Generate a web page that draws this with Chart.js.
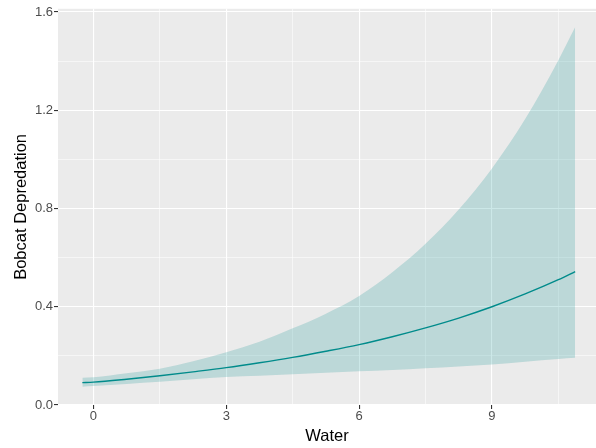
<!DOCTYPE html>
<html><head><meta charset="utf-8">
<script src="https://cdn.jsdelivr.net/npm/chart.js@4/dist/chart.umd.min.js"></script>
<style>html,body{margin:0;padding:0;background:#fff}canvas{display:block}</style>
</head><body>
<canvas id="c" width="596" height="448" style="width:596px;height:448px"></canvas>
<script>
// Data
const water       = [-0.25, 0, 0.75, 1.5, 2.25, 3, 3.75, 4.5, 5.25, 6, 6.75, 7.5, 8.25, 9, 9.75, 10.5, 10.88];
const fitValues   = [0.091, 0.093, 0.105, 0.119, 0.135, 0.152, 0.172, 0.194, 0.219, 0.246, 0.278, 0.314, 0.354, 0.400, 0.452, 0.510, 0.543];
const lowerValues = [0.074, 0.077, 0.086, 0.095, 0.105, 0.114, 0.119, 0.125, 0.131, 0.137, 0.143, 0.150, 0.157, 0.165, 0.176, 0.187, 0.192];
const upperValues = [0.111, 0.113, 0.129, 0.148, 0.178, 0.215, 0.258, 0.312, 0.372, 0.444, 0.540, 0.656, 0.796, 0.963, 1.164, 1.404, 1.539];

const xMajorTicks = [0, 3, 6, 9];
const xMinorTicks = [1.5, 4.5, 7.5, 10.5];
const yMajorTicks = [0, 0.4, 0.8, 1.2, 1.6];
const yMinorTicks = [0.2, 0.6, 1.0, 1.4];
const xLimits = [-0.8, 11.35];
const yLimits = [0, 1.613];

const xTitle = 'Water';
const yTitle = 'Bobcat Depredation';

const toPts = (xs, ys) => xs.map((x, i) => ({x: x, y: ys[i]}));
const isMajor = (arr, v) => arr.some(t => Math.abs(t - v) < 1e-9);

const panelBg = {
  id: 'panelBg',
  beforeDraw(chart) {
    const {ctx, chartArea: a} = chart;
    ctx.save();
    ctx.fillStyle = '#EBEBEB';
    ctx.fillRect(a.left, a.top, a.right - a.left, a.bottom - a.top);
    ctx.restore();
  }
};

const FONT = "'Liberation Sans', Arial, Helvetica, sans-serif";

new Chart(document.getElementById('c'), {
  type: 'line',
  data: {
    datasets: [
      {
        label: 'fit',
        data: toPts(water, fitValues),
        borderColor: '#008B8B',
        borderWidth: 1.4,
        pointRadius: 0,
        fill: false,
        cubicInterpolationMode: 'monotone'
      },
      {
        label: 'lower',
        data: toPts(water, lowerValues),
        borderWidth: 0,
        borderColor: 'rgba(0,0,0,0)',
        pointRadius: 0,
        fill: false,
        cubicInterpolationMode: 'monotone'
      },
      {
        label: 'upper',
        data: toPts(water, upperValues),
        borderWidth: 0,
        borderColor: 'rgba(0,0,0,0)',
        backgroundColor: 'rgba(0,139,139,0.2)',
        pointRadius: 0,
        fill: 1,
        cubicInterpolationMode: 'monotone'
      }
    ]
  },
  options: {
    responsive: false,
    animation: false,
    devicePixelRatio: 1,
    layout: {padding: {top: 5, right: 0, left: 0, bottom: 0}},
    plugins: {legend: {display: false}, tooltip: {enabled: false}},
    scales: {
      x: {
        type: 'linear',
        min: xLimits[0],
        max: xLimits[1],
        afterBuildTicks(scale) {
          scale.ticks = xMajorTicks.concat(xMinorTicks).sort((a, b) => a - b).map(v => ({value: v}));
        },
        afterFit(scale) { scale.height = 43; },
        border: {display: false},
        grid: {
          color: '#FFFFFF',
          lineWidth: ctx => isMajor(xMajorTicks, ctx.tick.value) ? 1.1 : 0.55,
          tickColor: ctx => isMajor(xMajorTicks, ctx.tick.value) ? '#333333' : 'rgba(0,0,0,0)',
          tickWidth: 1.1,
          tickLength: 4,
          drawTicks: true
        },
        ticks: {
          padding: 0,
          color: '#4D4D4D',
          font: {family: FONT, size: 13},
          maxRotation: 0,
          autoSkip: false,
          callback: v => isMajor(xMajorTicks, v) ? String(v) : ''
        },
        title: {
          display: true,
          text: xTitle,
          color: '#000000',
          font: {family: FONT, size: 16.5},
          padding: {top: 2.1, bottom: 2.1}
        }
      },
      y: {
        type: 'linear',
        min: yLimits[0],
        max: yLimits[1],
        afterBuildTicks(scale) {
          scale.ticks = yMajorTicks.concat(yMinorTicks).sort((a, b) => a - b).map(v => ({value: v}));
        },
        afterFit(scale) { scale.width = 58; },
        border: {display: false},
        grid: {
          color: '#FFFFFF',
          lineWidth: ctx => isMajor(yMajorTicks, ctx.tick.value) ? 1.1 : 0.55,
          tickColor: ctx => isMajor(yMajorTicks, ctx.tick.value) ? '#333333' : 'rgba(0,0,0,0)',
          tickWidth: 1.1,
          tickLength: 4,
          drawTicks: true
        },
        ticks: {
          padding: 1,
          color: '#4D4D4D',
          font: {family: FONT, size: 13},
          autoSkip: false,
          callback: v => isMajor(yMajorTicks, v) ? v.toFixed(1) : ''
        },
        title: {
          display: true,
          text: yTitle,
          color: '#000000',
          font: {family: FONT, size: 16.5},
          padding: {top: 11.6, bottom: 11.6}
        }
      }
    }
  },
  plugins: [panelBg]
});
</script>
</body></html>
